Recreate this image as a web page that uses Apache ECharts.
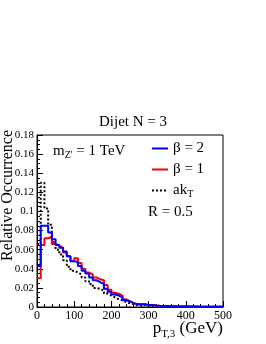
<!DOCTYPE html>
<html><head><meta charset="utf-8">
<script src="https://cdn.jsdelivr.net/npm/echarts@6/dist/echarts.min.js"></script>
<style>html,body{margin:0;padding:0;background:#fff}#c{width:266px;height:344px}</style>
</head><body><div id="c"></div>
<script>
// bin lower edges (GeV), width 10
const binWidth = 10;
const binEdges = Array.from({length: 50}, (_, i) => i * binWidth);
const beta2 = [0.043,0.085,0.085,0.078,0.071,0.065,0.062,0.058,0.053,0.048,0.047,0.043,0.038,0.035,0.031,0.028,0.026,0.024,0.019,0.016,0.013,0.012,0.010,0.007,0.006,0.004,0.003,0.003,0.003,0.002,0.002,0.0015,0.0012,0.001,0.001,0.0008,0.0008,0.0006,0.0006,0.0005,0.0005,0.0004,0.0004,0.0003,0.0003,0.0003,0.0002,0.0002,0.0002,0.0002];
const beta1 = [0.030,0.065,0.072,0.0735,0.066,0.064,0.062,0.057,0.053,0.048,0.051,0.046,0.040,0.036,0.034,0.031,0.029,0.028,0.023,0.018,0.015,0.014,0.012,0.008,0.006,0.004,0.003,0.003,0.003,0.002,0.002,0.0015,0.0012,0.001,0.001,0.0008,0.0008,0.0006,0.0006,0.0005,0.0005,0.0004,0.0004,0.0003,0.0003,0.0003,0.0002,0.0002,0.0002,0.0002];
const akT   = [0.066,0.130,0.103,0.086,0.068,0.060,0.055,0.049,0.042,0.038,0.036,0.034,0.031,0.027,0.024,0.020,0.019,0.017,0.014,0.012,0.010,0.008,0.007,0.005,0.004,0.003,0.002,0.002,0.002,0.0015,0.0012,0.001,0.001,0.0008,0.0008,0.0006,0.0006,0.0005,0.0005,0.0004,0.0004,0.0003,0.0003,0.0003,0.0002,0.0002,0.0002,0.0002,0.0002,0.0002];
const xTicks = [0,100,200,300,400,500];
const yTicks = [0,0.02,0.04,0.06,0.08,0.1,0.12,0.14,0.16,0.18];

function histData(vals){
  const d = binEdges.map((x,i)=>[x, vals[i]]);
  d.push([binEdges[binEdges.length-1]+binWidth, vals[vals.length-1]]);
  return d;
}
const serif = '"Liberation Serif","DejaVu Serif",serif';
const chart = echarts.init(document.getElementById('c'), null, {renderer:'canvas'});
chart.setOption({
  animation:false,
  title:{text:'Dijet N = 3', left:'center', top:110, textStyle:{fontFamily:serif, fontSize:15, fontWeight:'normal', color:'#000'}},
  grid:{left:37, right:43, top:135, bottom:37, show:true, borderColor:'#000', borderWidth:1, backgroundColor:'transparent'},
  legend:{
    data:['β = 2','β = 1','akT'], orient:'vertical', left:146, top:136,
    itemWidth:16, itemHeight:10, itemGap:6,
    itemStyle:{opacity:0},
    formatter: n => n==='akT' ? '{a|ak}{s|T}' : '{a|'+n+'}',
    textStyle:{fontFamily:serif, fontSize:15, color:'#000',
      rich:{a:{fontFamily:serif,fontSize:15,color:'#000'}, s:{fontFamily:serif,fontSize:10,color:'#000',verticalAlign:'bottom',padding:[8,0,0,0]}}}
  },
  xAxis:{type:'value', min:0, max:500, interval:100,
    axisLine:{lineStyle:{color:'#000'}},
    axisTick:{inside:true, length:6, lineStyle:{color:'#000'}},
    minorTick:{show:true, splitNumber:5, length:3, lineStyle:{color:'#000'}},
    splitLine:{show:false},
    axisLabel:{fontFamily:serif, fontSize:12, color:'#000', margin:3}},
  yAxis:{type:'value', min:0, max:0.18, interval:0.02,
    axisLine:{show:true, lineStyle:{color:'#000'}},
    axisTick:{show:true, inside:true, length:6, lineStyle:{color:'#000'}},
    minorTick:{show:true, splitNumber:4, length:3, lineStyle:{color:'#000'}},
    splitLine:{show:false},
    axisLabel:{fontFamily:serif, fontSize:11, color:'#000', margin:3, formatter:v=>parseFloat(v.toFixed(2)).toString()}},
  series:[
    {name:'akT', type:'line', step:'end', data:histData(akT), symbol:'none', lineStyle:{color:'#000', width:2, type:[2,2]}, itemStyle:{color:'#000'}},
    {name:'β = 1', type:'line', step:'end', data:histData(beta1), symbol:'none', lineStyle:{color:'#ff0000', width:2}, itemStyle:{color:'#ff0000'}},
    {name:'β = 2', type:'line', step:'end', data:histData(beta2), symbol:'none', lineStyle:{color:'#0000ff', width:2}, itemStyle:{color:'#0000ff'}}
  ],
  graphic:[
    {type:'text', x:53, y:151, style:{rich:{n:{fontFamily:serif,fontSize:15,fill:'#000'}, s:{fontFamily:serif,fontSize:10,fill:'#000',verticalAlign:'bottom',padding:[8,0,0,0]}}, text:"{n|m}{s|Z'}{n| = 1 TeV}", verticalAlign:'middle'}},
    {type:'text', x:148, y:212, style:{text:'R = 0.5', font:'15px '+serif, fill:'#000', verticalAlign:'middle'}},
    {type:'text', x:8, y:130, rotation:Math.PI/2, style:{text:'Relative Occurrence', font:'16px '+serif, fill:'#000', align:'right', verticalAlign:'middle'}},
    {type:'text', x:223, y:329, style:{rich:{n:{fontFamily:serif,fontSize:17,fill:'#000'}, s:{fontFamily:serif,fontSize:11,fill:'#000',verticalAlign:'bottom',padding:[10,0,0,0]}}, text:'{n|p}{s|T,3}{n| (GeV)}', align:'right', verticalAlign:'middle'}}
  ]
});
</script></body></html>
